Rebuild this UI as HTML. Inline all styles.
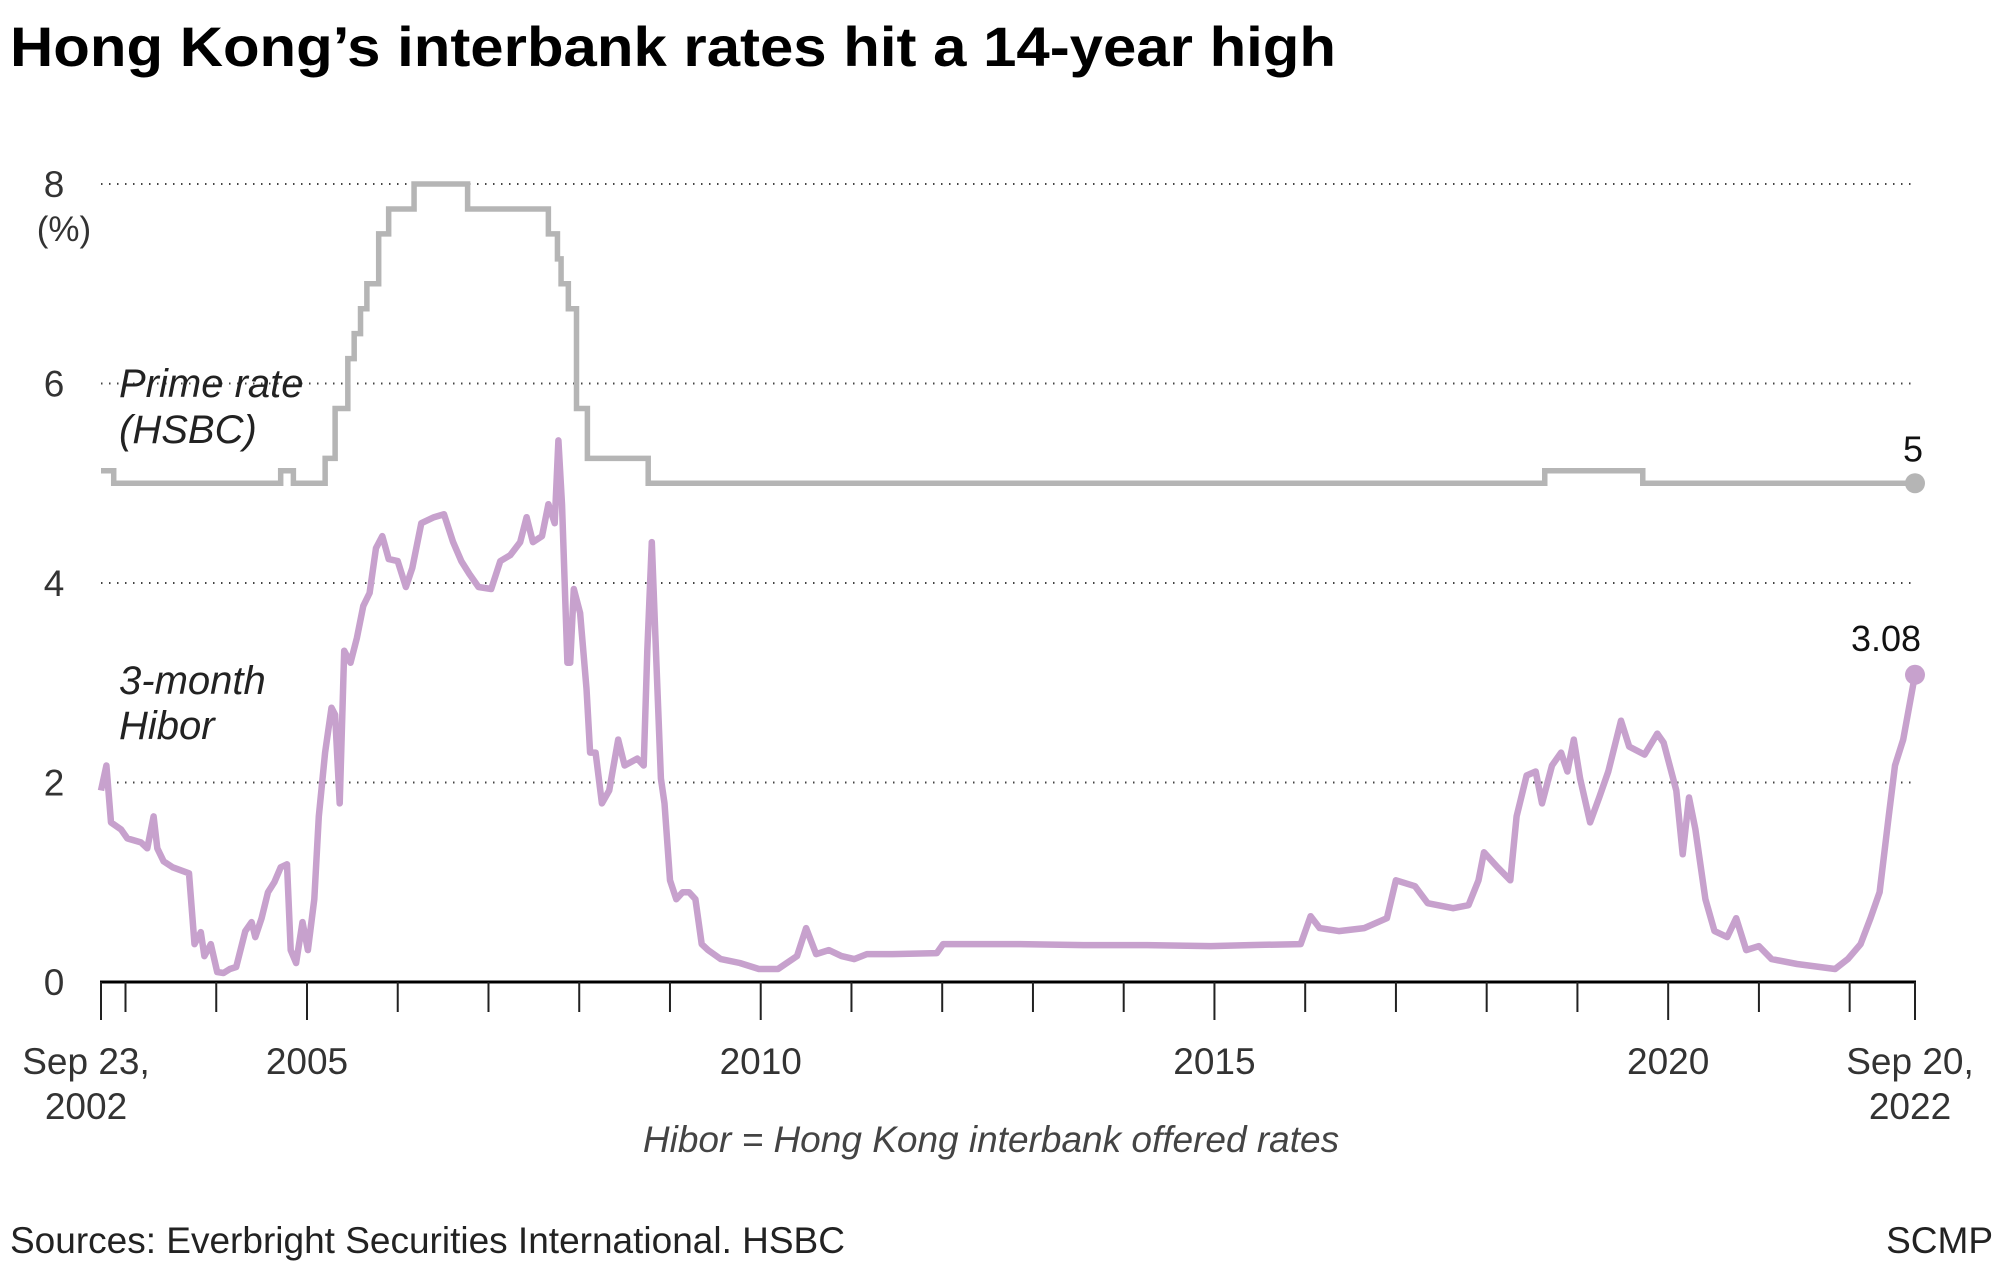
<!DOCTYPE html>
<html><head><meta charset="utf-8"><style>
html,body{margin:0;padding:0;background:#fff;}
svg{display:block;font-family:"Liberation Sans",sans-serif;}
</style></head><body>
<svg id="chart" width="1999" height="1272" viewBox="0 0 1999 1272" xmlns="http://www.w3.org/2000/svg">
<text x="10" y="66" font-size="56" font-weight="bold" fill="#000" textLength="1326" lengthAdjust="spacingAndGlyphs">Hong Kong’s interbank rates hit a 14-year high</text>
<g id="grid"></g>
<g id="yaxis"></g>
<text x="64" y="241" font-size="35" fill="#333" text-anchor="middle">(%)</text>
<g id="xaxis"></g>
<g id="series"></g>
<text x="119" y="397" font-size="40" font-style="italic" fill="#222">Prime rate</text>
<text x="119" y="443" font-size="40" font-style="italic" fill="#222">(HSBC)</text>
<text x="119" y="694" font-size="40" font-style="italic" fill="#222">3-month</text>
<text x="119" y="739" font-size="40" font-style="italic" fill="#222">Hibor</text>
<text x="991" y="1152" font-size="37" font-style="italic" fill="#444" text-anchor="middle">Hibor = Hong Kong interbank offered rates</text>
<text x="10" y="1253" font-size="37" fill="#222">Sources: Everbright Securities International. HSBC</text>
<text x="1993" y="1253" font-size="37" fill="#222" text-anchor="end">SCMP</text>
</svg>
<script>
const primeYears=[2002.73,2002.87,2004.71,2004.85,2005.20,2005.31,2005.45,2005.52,2005.59,2005.66,2005.79,2005.90,2006.18,2006.77,2007.66,2007.76,2007.80,2007.88,2007.97,2008.09,2008.76,2018.64,2019.72,2022.72];
const primeValues=[5.125,5.0,5.125,5.0,5.25,5.75,6.25,6.5,6.75,7.0,7.5,7.75,8.0,7.75,7.5,7.25,7.0,6.75,5.75,5.25,5.0,5.125,5.0,5.0];
const hiborYears=[2002.73,2002.79,2002.84,2002.95,2003.02,2003.17,2003.24,2003.31,2003.35,2003.42,2003.52,2003.70,2003.76,2003.83,2003.87,2003.94,2004.01,2004.08,2004.15,2004.22,2004.32,2004.39,2004.43,2004.50,2004.57,2004.64,2004.71,2004.78,2004.82,2004.88,2004.95,2005.01,2005.08,2005.13,2005.20,2005.27,2005.31,2005.36,2005.41,2005.48,2005.55,2005.62,2005.69,2005.76,2005.83,2005.90,2006.00,2006.09,2006.16,2006.26,2006.40,2006.51,2006.61,2006.70,2006.79,2006.89,2007.03,2007.13,2007.24,2007.35,2007.42,2007.49,2007.59,2007.66,2007.73,2007.77,2007.81,2007.87,2007.90,2007.94,2008.01,2008.08,2008.12,2008.18,2008.25,2008.33,2008.43,2008.50,2008.64,2008.71,2008.75,2008.80,2008.85,2008.90,2008.94,2009.00,2009.07,2009.14,2009.21,2009.28,2009.35,2009.42,2009.56,2009.77,2009.98,2010.19,2010.40,2010.50,2010.61,2010.75,2010.89,2011.03,2011.17,2011.45,2011.94,2012.01,2012.86,2013.56,2014.26,2014.96,2015.38,2015.95,2016.06,2016.16,2016.37,2016.65,2016.90,2017.00,2017.21,2017.35,2017.63,2017.80,2017.91,2017.97,2018.12,2018.26,2018.33,2018.44,2018.54,2018.61,2018.72,2018.82,2018.89,2018.96,2019.03,2019.14,2019.24,2019.34,2019.48,2019.57,2019.74,2019.88,2019.95,2020.09,2020.16,2020.23,2020.30,2020.41,2020.51,2020.65,2020.75,2020.86,2021.00,2021.14,2021.42,2021.84,2021.98,2022.12,2022.23,2022.33,2022.43,2022.50,2022.59,2022.72];
const hiborValues=[1.92,2.17,1.6,1.53,1.44,1.4,1.34,1.66,1.34,1.21,1.15,1.09,0.38,0.5,0.26,0.38,0.1,0.09,0.13,0.15,0.51,0.6,0.45,0.64,0.9,1.0,1.15,1.18,0.32,0.19,0.6,0.32,0.83,1.66,2.3,2.75,2.68,1.79,3.32,3.2,3.45,3.77,3.9,4.35,4.47,4.24,4.22,3.96,4.15,4.6,4.66,4.69,4.41,4.22,4.09,3.96,3.94,4.22,4.28,4.41,4.66,4.41,4.47,4.79,4.6,5.43,4.79,3.2,3.2,3.94,3.7,2.94,2.3,2.3,1.79,1.92,2.43,2.17,2.24,2.17,3.32,4.41,3.2,2.04,1.79,1.02,0.83,0.9,0.9,0.83,0.38,0.32,0.23,0.19,0.13,0.13,0.26,0.54,0.28,0.32,0.26,0.23,0.28,0.28,0.29,0.38,0.38,0.37,0.37,0.36,0.37,0.38,0.66,0.54,0.51,0.54,0.64,1.02,0.96,0.79,0.74,0.77,1.02,1.3,1.15,1.02,1.66,2.07,2.11,1.79,2.17,2.3,2.11,2.43,2.04,1.6,1.85,2.11,2.62,2.36,2.28,2.49,2.4,1.92,1.28,1.85,1.53,0.83,0.51,0.45,0.64,0.32,0.36,0.23,0.18,0.13,0.23,0.38,0.64,0.9,1.66,2.17,2.43,3.08];
const yTicks=[0,2,4,6,8];
const yTickLabels=["0","2","4","6","8"];
const xLabelYears=[2005,2010,2015,2020];
const xLabels=["2005","2010","2015","2020"];
const startYear=2002.73, endYear=2022.72;

const NS="http://www.w3.org/2000/svg";
const X0=101,X1=1915,Y0=982,Y8=184;
const xs=v=>X0+(v-startYear)/(endYear-startYear)*(X1-X0);
const ys=v=>Y0+(v/8)*(Y8-Y0);
function mk(tag,parent,attrs){const e=document.createElementNS(NS,tag);for(const k in attrs)e.setAttribute(k,attrs[k]);parent.appendChild(e);return e;}
const grid=document.getElementById('grid'),yaxis=document.getElementById('yaxis'),xaxis=document.getElementById('xaxis'),series=document.getElementById('series');

yTicks.forEach((t,i)=>{
  if(t>0){const l=mk('line',grid,{x1:X0,x2:1912,y1:ys(t),y2:ys(t),stroke:'#444','stroke-width':2,'stroke-dasharray':'1.5 6.5'});
  
  }
  const tx=mk('text',yaxis,{x:54,y:ys(t)+13,'font-size':37,fill:'#333','text-anchor':'middle'});
  tx.textContent=yTickLabels[i];
  
  
});

const axl=mk('line',xaxis,{x1:X0-1,x2:X1+1,y1:Y0,y2:Y0,stroke:'#000','stroke-width':3});


for(let yr=2003;yr<=2022;yr++){
  const major=xLabelYears.includes(yr);
  const tk=mk('line',xaxis,{x1:xs(yr),x2:xs(yr),y1:Y0,y2:major?1020:1012,stroke:'#222','stroke-width':2});
  
  
}
[startYear,endYear].forEach(v=>{
  const tk=mk('line',xaxis,{x1:xs(v),x2:xs(v),y1:Y0,y2:1020,stroke:'#222','stroke-width':2});
  
  
});
xLabelYears.forEach((yr,i)=>{
  const tx=mk('text',xaxis,{x:xs(yr),y:1074,'font-size':37,fill:'#333','text-anchor':'middle'});
  tx.textContent=xLabels[i];
  
  
});
[[startYear,'Sep 23,','2002',86],[endYear,'Sep 20,','2022',1910]].forEach(([v,a,b,cx])=>{
  const t1=mk('text',xaxis,{x:cx,y:1074,'font-size':37,fill:'#333','text-anchor':'middle'});t1.textContent=a;
  
  
  const t2=mk('text',xaxis,{x:cx,y:1119,'font-size':37,fill:'#333','text-anchor':'middle'});t2.textContent=b;
  
  
});

let pd='';
primeYears.forEach((yr,i)=>{
  if(i===0)pd+='M'+xs(yr)+','+ys(primeValues[i]);
  else pd+='H'+xs(yr)+'V'+ys(primeValues[i]);
});
const pp=mk('path',series,{d:pd,fill:'none',stroke:'#b5b5b5','stroke-width':5.5});


let hd='';
hiborYears.forEach((yr,i)=>{hd+=(i?'L':'M')+xs(yr).toFixed(1)+','+ys(hiborValues[i]).toFixed(1);});
const hp=mk('path',series,{d:hd,fill:'none',stroke:'#c7a1cd','stroke-width':6.5,'stroke-linejoin':'round'});



const pl=primeValues.length-1,hl=hiborValues.length-1;
const pdot=mk('circle',series,{cx:xs(primeYears[pl]),cy:ys(primeValues[pl]),r:10,fill:'#b5b5b5'});


const hdot=mk('circle',series,{cx:xs(hiborYears[hl]),cy:ys(hiborValues[hl]),r:10,fill:'#c7a1cd'});


const pv=mk('text',series,{x:xs(primeYears[pl])-2,y:ys(primeValues[pl])-22,'font-size':36,fill:'#111','text-anchor':'middle'});
pv.textContent=String(primeValues[pl]);


const hv=mk('text',series,{x:xs(hiborYears[hl])-29,y:ys(hiborValues[hl])-24,'font-size':36,fill:'#111','text-anchor':'middle'});
hv.textContent=hiborValues[hl].toFixed(2);


</script>
</body></html>
